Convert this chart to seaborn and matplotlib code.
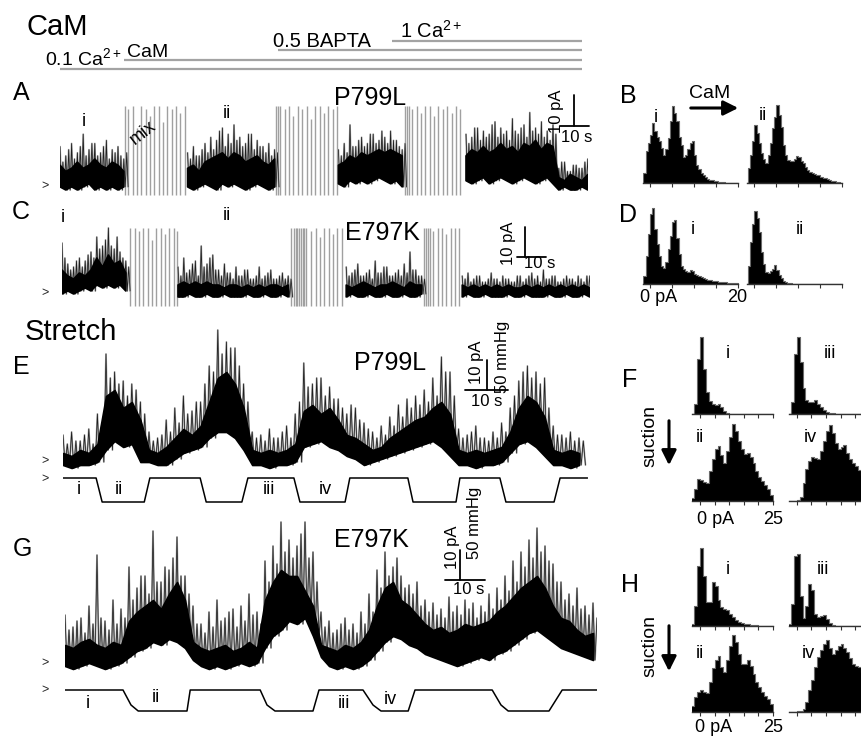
import numpy as np
import matplotlib
matplotlib.use("Agg")
import matplotlib.pyplot as plt
import seaborn as sns

sns.set_theme(style="white")
plt.rcParams["font.family"] = ["Liberation Sans", "DejaVu Sans"]
plt.rcParams["mathtext.fontset"] = "custom"
plt.rcParams["mathtext.rm"] = "Liberation Sans"
plt.rcParams["mathtext.it"] = "Liberation Sans:italic"
plt.rcParams["mathtext.bf"] = "Liberation Sans:bold"

N = np.nan
DT = 2.0  # s per envelope bin; spike maxima are given per half bin

# ---------------- Panel A (P799L, CaM): core band (LO..MID) and spike maxima, pA
A_LO = [1, 0, 1, 0, 1, 2, 0, 1, 0, 1, 0, 1] + [N] * 10 + \
       [1, 0, 1, 2, 1, 0, 2, 1, 2, 1, 0, 1, 2, 1, 0, 1] + [N] * 10 + \
       [2, 1, 3, 2, 3, 2, 3, 4, 3, 2, 3, 1] + [N] * 10 + \
       [3, 2, 3, 4, 2, 3, 4, 3, 2, 3, 4, 3, 2, 3, 4, 2] + [0, 1, 0, 0, 1, 0]
A_MID = [8, 6, 7, 9, 7, 8, 10, 8, 7, 9, 8, 6] + [N] * 10 + \
        [7, 8, 6, 9, 10, 11, 12, 10, 12, 11, 9, 10, 11, 9, 8, 10] + [N] * 10 + \
        [8, 9, 11, 10, 12, 11, 12, 13, 12, 13, 12, 11] + [N] * 10 + \
        [11, 13, 12, 14, 12, 13, 15, 13, 14, 12, 15, 14, 16, 13, 15, 14] + [4, 3, 5, 4, 3, 5]
A_SPK = [14, 9, 11, 13, 15, 10, 12, 14, 18, 11, 13, 15, 15, 11, 12, 14, 16, 10, 13, 12, 14, 11, 10, 12] + \
        [N] * 20 + \
        [12, 10, 14, 11, 11, 13, 15, 12, 17, 13, 16, 19, 20, 14, 18, 15, 21, 16, 17, 14, 15, 18, 18, 13,
         16, 14, 14, 12, 15, 11, 13, 12] + [N] * 20 + \
        [13, 11, 15, 12, 21, 14, 14, 16, 17, 14, 15, 18, 18, 15, 16, 19, 17, 15, 19, 16, 16, 14, 13, 15] + \
        [N] * 20 + \
        [18, 15, 17, 20, 20, 16, 19, 17, 18, 21, 22, 17, 20, 18, 19, 16, 23, 19, 18, 20, 21, 17, 25, 19,
         20, 18, 22, 17, 19, 16, 21, 18] + [7, 9, 9, 6, 6, 8, 8, 7, 7, 9, 10, 8]
A_ART_T = [22.5, 23.5, 25, 26.5, 28, 29.5, 31, 32.5, 34, 35.5, 37, 38.5, 40, 41.5, 43,
           74.5, 75.2, 76, 77.5, 79, 80.5, 82, 83.5, 85, 86.5, 88, 89.5, 91, 92.5, 94, 95.5,
           119, 119.6, 120.2, 121.5, 123, 124.5, 126, 127.5, 129, 130.5, 132, 133.5, 135, 136.5, 138]
A_ART_TOP = [27, 26, 27, 20, 27, 26, 24, 27, 27, 22, 27, 26, 27, 25, 27,
             27, 27, 27, 26, 27, 24, 27, 26, 27, 23, 27, 27, 25, 27, 26, 27,
             27, 27, 27, 26, 27, 25, 27, 27, 24, 27, 26, 27, 25, 27, 26]

# ---------------- Panel C (E797K, CaM)
C_LO = [0, 1, 0, 1, 2, 1, 3, 2, 3, 2, 3, 1] + [N] * 8 + \
       [-1, -1, 0, -1, -1, 0, -1, -1, 0, -1, -1, -1, 0, -1, -1, 0, -1, -1, 0, -1] + [N] * 9 + \
       [-1, 0, -1, -1, 0, -1, -1, 0, -1, -1, 0, -1, -1, 0] + [N] * 6 + \
       [-1, 0, -1, -1, 0, -1, -1, -1, 0, -1, -1, 0, -1, -1, -1, 0, -1, -1, 0, -1, -1, 0, -1]
C_MID = [8, 6, 5, 7, 6, 8, 12, 9, 13, 10, 11, 7] + [N] * 8 + \
        [3, 4, 3, 4, 3, 4, 3, 3, 2, 3, 3, 2, 3, 2, 3, 2, 3, 3, 2, 3] + [N] * 9 + \
        [3, 2, 3, 4, 3, 2, 3, 3, 4, 3, 2, 4, 3, 3] + [N] * 6 + \
        [3, 2, 3, 2, 3, 2, 3, 2, 3, 2, 2, 3, 2, 3, 2, 3, 2, 3, 2, 3, 2, 3, 2]
C_SPK = [17, 12, 10, 8, 9, 11, 12, 9, 11, 13, 14, 12, 19, 15, 16, 18, 22, 16, 15, 19, 14, 12, 11, 9] + \
        [N] * 16 + \
        [9, 6, 12, 7, 8, 10, 11, 6, 16, 9, 10, 12, 13, 8, 8, 6, 10, 7, 7, 5, 9, 6, 6, 8, 8, 5, 5, 6,
         9, 5, 6, 7, 8, 5, 5, 6, 7, 5, 6, 5] + [N] * 18 + \
        [9, 6, 7, 8, 10, 6, 6, 7, 8, 5, 11, 7, 7, 9, 9, 6, 6, 7, 8, 6, 10, 7, 14, 8, 8, 6, 6, 5] + \
        [N] * 12 + \
        [6, 5, 7, 4, 5, 6, 6, 4, 4, 5, 7, 5, 5, 4, 6, 5, 5, 4, 4, 6, 6, 4, 5, 6, 7, 5, 6, 4, 8, 5,
         5, 6, 6, 4, 4, 5, 6, 5, 5, 4, 6, 5, 4, 6, 6, 5]
C_ART_T = [23.5, 25, 26.5, 28, 29.5, 31, 32.5, 34, 35.5, 37, 38.5, 39.5,
           79, 80, 80.6, 81.2, 81.8, 82.4, 83, 83.6, 84.2, 86, 87.5, 89, 90.5, 92, 93.5, 95, 96.5,
           125, 125.6, 126.2, 126.8, 128, 129.5, 131, 132.5, 134, 135.5, 137]
C_ART_TOP = [22, 22, 21, 22, 22, 18, 22, 22, 20, 22, 22, 21,
             22, 22, 22, 22, 22, 22, 22, 22, 22, 21, 22, 19, 22, 22, 20, 22, 22,
             22, 22, 22, 22, 21, 22, 22, 20, 22, 22, 22]

# ---------------- Panel E (P799L, stretch)
E_LO = [-1, -2, -1, -1, 0, 4, 7, 5, 6, 0, 0, -1, -1, 1, 3, 4, 5, 8, 10, 10, 8, 4, -1, -1, -2,
        -1, -1, 0, 5, 6, 7, 5, 4, 2, 1, -1, 0, 1, 2, 3, 4, 5, 6, 7, 5, 2, -1, -1, -2, -1,
        -1, 0, 3, 6, 7, 5, 2, -1, -1, -2, -1]
E_MID = [3, 2, 4, 3, 6, 22, 24, 18, 20, 14, 4, 3, 5, 8, 11, 9, 12, 20, 28, 30, 26, 18, 4, 3, 4,
         3, 4, 6, 17, 19, 16, 18, 14, 9, 8, 6, 4, 5, 8, 10, 12, 14, 15, 18, 20, 16, 4, 3, 4, 3,
         4, 5, 10, 18, 22, 20, 15, 4, 3, 4, 3]
E_SPK = [9, 6, 10, 7, 7, 9, 11, 6, 16, 12,
         36, 28, 30, 26, 27, 22, 26, 24, 20, 16,
         10, 7, 8, 9, 14, 10, 18, 13, 22, 16,
         17, 20, 20, 26, 32, 30, 44, 36, 40, 38,
         38, 32, 26, 20, 10, 8, 9, 7, 11, 8,
         8, 10, 12, 8, 16, 20, 33, 25, 26, 28,
         28, 22, 25, 21, 21, 18, 16, 19, 18, 14,
         13, 11, 10, 8, 12, 9, 15, 12, 19, 15,
         21, 18, 22, 19, 24, 20, 28, 22, 35, 30,
         30, 22, 11, 8, 9, 10, 12, 8, 8, 7,
         10, 8, 13, 10, 18, 22, 27, 30, 32, 28,
         30, 26, 28, 18, 12, 9, 9, 8, 10, 7,
         8, 7]
E_P_T = [0, 7.7, 9.1, 18.9, 20.2, 31.9, 33.3, 41.6, 43.0, 53.7, 55.1, 65.6, 66.7, 80.2, 81.4,
         91.4, 92.3, 101.6, 103.0, 114.2, 115.6, 122]
E_P_MMHG = [0, 0, -40, -40, 0, 0, -40, -40, 0, 0, -40, -40, 0, 0, -40, -40, 0, 0, -40, -40, 0, 0]

# ---------------- Panel G (E797K, stretch)
G_LO = [0, -1, 0, 1, 0, -1, 0, 1, 3, 5, 6, 8, 7, 9, 8, 6, 2, 0, -1, 0, -1, 0, 1, 0, 1,
        6, 10, 12, 15, 14, 16, 10, 3, 0, -1, 0, -1, 0, 2, 5, 8, 10, 9, 7, 6, 4, 3,
        2, 1, 0, 1, 2, 3, 2, 4, 5, 7, 9, 11, 12, 10, 8, 6, 5, 4, 3, 2]
G_MID = [7, 6, 8, 9, 7, 6, 8, 7, 15, 18, 20, 22, 19, 24, 28, 22, 8, 6, 5, 6, 7, 5, 6, 8, 6,
         22, 28, 32, 30, 30, 25, 20, 7, 6, 5, 7, 6, 8, 12, 20, 26, 28, 22, 20, 17, 14, 12,
         13, 11, 12, 14, 13, 14, 15, 18, 20, 23, 26, 28, 30, 26, 20, 16, 15, 12, 10, 11]
G_SPK = [17, 12, 13, 15, 16, 11, 20, 14, 37, 16, 15, 12, 22, 14, 19, 16,
         33, 22, 26, 30, 30, 24, 45, 28, 28, 33, 32, 36, 43, 30, 30, 24,
         20, 14, 14, 11, 18, 13, 22, 15, 16, 18, 19, 13, 20, 15, 24, 17, 18, 14,
         35, 28, 40, 34, 48, 38, 42, 36, 40, 44, 48, 36, 38, 28,
         18, 13, 15, 11, 12, 14, 16, 12, 14, 11, 18, 14,
         24, 18, 32, 26, 38, 30, 33, 36, 30, 26, 27, 24, 28, 20, 22, 18, 21, 17,
         19, 16, 23, 18, 20, 17, 22, 19, 21, 16, 20, 18, 24, 19,
         26, 22, 30, 25, 35, 28, 38, 33, 42, 36, 46, 38, 40, 35, 34, 28,
         28, 22, 24, 20, 26, 19, 20, 17, 21, 16]
G_P_T = [0, 14.5, 16.5, 18.3, 30.5, 31.3, 48.8, 50.5, 52.5, 62, 63.5, 74.5, 77, 79, 85.8, 87.5,
         106.8, 109, 110.8, 121, 124.3, 133]
G_P_MMHG = [0, 0, -25, -35, -35, 0, 0, -25, -35, -35, 0, 0, -25, -35, -35, 0, 0, -25, -35, -35, 0, 0]

# ---------------- Amplitude histograms (relative counts)
BD_BIN = 0.5    # pA, bins start at -2 pA
FH_BIN = 1.0    # pA, bins start at -3 pA
B_I = [0, 10, 32, 40, 48, 60, 52, 46, 42, 35, 28, 34, 45, 62, 77, 70, 62, 46, 38, 26, 28, 34, 40, 42,
       28, 18, 14, 10, 8, 6, 4, 3, 3, 2, 2, 1, 1, 1, 0.5, 0, 0, 0, 0, 0]
B_II = [0, 15, 28, 42, 58, 50, 40, 30, 24, 20, 28, 40, 55, 66, 78, 68, 56, 38, 28, 23, 22, 22, 24, 27,
        26, 22, 20, 16, 13, 11, 10, 9, 8, 8, 6, 5, 5, 4, 3, 2, 2, 1, 1, 0.5]
D_I = [0, 8, 28, 50, 70, 76, 55, 40, 28, 18, 16, 22, 35, 48, 62, 64, 46, 30, 18, 15, 13, 12, 14, 13,
       10, 9, 8, 7, 6, 5, 4, 4, 3, 3, 3, 2, 2, 2, 2, 1, 1, 1, 1, 1]
D_II = [0, 18, 42, 60, 73, 66, 52, 32, 20, 12, 11, 13, 15, 19, 14, 9, 6, 3, 2, 1, 1, 0.5, 0, 0,
        0, 0, 0, 0, 0, 0, 0, 0, 0, 0, 0, 0, 0, 0, 0, 0, 0, 0, 0, 0]
F_I = [0, 10, 55, 77, 45, 22, 13, 10, 9, 10, 7, 3, 1, 0.5, 0, 0, 0, 0, 0, 0, 0, 0, 0, 0, 0, 0, 0, 0]
F_III = [0, 12, 60, 77, 52, 26, 14, 12, 12, 14, 10, 7, 4, 2, 1, 1, 0.5, 0, 0, 0, 0, 0, 0, 0, 0, 0, 0, 0]
F_II = [3, 12, 22, 21, 19, 18, 30, 42, 52, 55, 46, 38, 50, 64, 77, 70, 60, 52, 47, 48, 44, 38, 30, 24,
        20, 16, 12, 6]
F_IV = [0, 0, 0, 1, 4, 18, 32, 40, 44, 43, 42, 50, 60, 70, 76, 68, 58, 52, 54, 56, 48, 42, 38, 35,
        31, 26, 20, 14]
H_I = [2, 20, 60, 78, 50, 24, 24, 44, 40, 26, 19, 17, 16, 12, 9, 6, 4, 3, 2, 2, 1, 1, 0.5, 0, 0, 0, 0, 0]
H_III = [2, 22, 70, 72, 30, 8, 20, 42, 36, 12, 9, 10, 11, 7, 3, 1, 0, 0, 0, 0, 0, 0, 0, 0, 0, 0, 0, 0]
H_II = [6, 15, 20, 22, 20, 19, 30, 44, 52, 56, 45, 40, 52, 66, 77, 70, 58, 48, 48, 52, 46, 38, 30, 25,
        20, 16, 13, 8]
H_IV = [0, 0, 0, 0.5, 1, 3, 10, 22, 32, 45, 55, 62, 68, 72, 64, 58, 62, 66, 68, 64, 60, 54, 48, 46,
        45, 40, 34, 28]

# Solution bars (start, in s of panel A time axis)
SOL_START = [0, 22, 75, 114.5]
SOL_END = 180

# ======================================================================
W, H = 861, 736
fig = plt.figure(figsize=(W / 100, H / 100), dpi=100)


def px_axes(x0, y0, x1, y1):
    ax = fig.add_axes([x0 / W, 1 - y1 / H, (x1 - x0) / W, (y1 - y0) / H])
    ax.patch.set_alpha(0)
    return ax


def trace_axes(x0, px_s, dur, base, px_u, ylo, yhi):
    ax = px_axes(x0, base - yhi * px_u, x0 + dur * px_s, base - ylo * px_u)
    ax.set_xlim(0, dur)
    ax.set_ylim(ylo, yhi)
    ax.axis("off")
    return ax


def draw_trace(ax, lo, mid, spk):
    lo, mid, spk = (np.asarray(v, dtype=float) for v in (lo, mid, spk))
    t = np.arange(len(lo)) * DT
    ok = ~np.isnan(lo)
    # min/max display: each half bin goes from its spike maximum down to the core bottom
    ts = np.arange(len(spk)) * (DT / 2)
    lo_half = np.repeat(lo, 2)
    zt = np.empty(2 * len(spk))
    zy = np.empty(2 * len(spk))
    zt[0::2], zy[0::2] = ts, spk
    zt[1::2], zy[1::2] = ts + DT / 4, lo_half
    ax.plot(zt, zy, color="#a8a8a8", lw=1.3, zorder=2)
    ax.plot(zt, zy, color="#1e1e1e", lw=0.55, zorder=2.5)
    ax.fill_between(t, lo, mid, where=ok, color="black", lw=1.2, edgecolor="black", zorder=3)


def scalebar(ax, tv, y0, y1, tx0, tx1):
    ax.plot([tv, tv], [y0, y1], color="black", lw=1.3, clip_on=False)
    ax.plot([tx0, tx1], [y0, y0], color="black", lw=1.3, clip_on=False)


def draw_pressure(ax, t, p):
    sns.lineplot(x=t, y=p, ax=ax, color="black", lw=1.1, estimator=None, sort=False)
    ax.set_xlabel("")
    ax.set_ylabel("")
    ax.axis("off")


# --- solution exchange bars
ax_sol = px_axes(60, 34.5, 60 + 182 * 2.9, 74.6)
ax_sol.set_xlim(0, 182)
ax_sol.set_ylim(-0.6, 3.7)
ax_sol.axis("off")
for row, s in enumerate(SOL_START):
    ax_sol.hlines(row, s, SOL_END, color="#a3a3a3", lw=1.6)

# --- A
axA = trace_axes(60, 2.9, 182, 190, 3.1, -3, 32)
axA.vlines(A_ART_T, -1.5, A_ART_TOP, color="#a0a0a0", lw=1.0)
draw_trace(axA, A_LO, A_MID, A_SPK)
scalebar(axA, 177.2, 20.6, 30.6, 172.4, 182.4)

# --- C
axC = trace_axes(62, 2.9, 182, 294, 3.0, -5, 25)
axC.vlines(C_ART_T, -4, C_ART_TOP, color="#a0a0a0", lw=1.0)
draw_trace(axC, C_LO, C_MID, C_SPK)
scalebar(axC, 159.7, 12.3, 22.3, 156.9, 166.9)

# --- E
axE = trace_axes(63, 4.3, 122, 462, 3.0, -4, 46)
draw_trace(axE, E_LO, E_MID, E_SPK)
scalebar(axE, 98.6, 24, 34, 93.5, 103.5)
axEp = trace_axes(63, 4.3, 122, 478, 0.6, -45, 5)
draw_pressure(axEp, E_P_T, E_P_MMHG)

# --- G
axG = trace_axes(65, 4.0, 133, 666, 3.0, -4, 50)
draw_trace(axG, G_LO, G_MID, G_SPK)
scalebar(axG, 98.75, 28.7, 38.7, 95, 105)
axGp = trace_axes(65, 4.0, 133, 690, 0.6, -40, 5)
draw_pressure(axGp, G_P_T, G_P_MMHG)


# --- histograms
def hist_axes(x_zero, y_axis, px_pA, xlo, xhi, counts, bw, b0, ticks):
    ax = px_axes(x_zero + xlo * px_pA, y_axis - 82, x_zero + xhi * px_pA, y_axis)
    n = len(counts)
    centers = b0 + bw * (np.arange(n) + 0.5)
    sns.histplot(x=centers, weights=np.asarray(counts, dtype=float), binwidth=bw,
                 binrange=(b0, b0 + bw * n), element="step", fill=True,
                 color="black", alpha=1, linewidth=0.8, edgecolor="#6a6a6a", ax=ax)
    ax.set_xlim(xlo, xhi)
    ax.set_ylim(0, 82)
    ax.set_xlabel("")
    ax.set_ylabel("")
    for s in ("top", "right", "left"):
        ax.spines[s].set_visible(False)
    ax.spines["bottom"].set_color("#333333")
    ax.spines["bottom"].set_linewidth(1.0)
    ax.set_yticks([])
    ax.set_xticks(ticks)
    ax.tick_params(axis="x", bottom=True, direction="out", length=3, width=0.8,
                   color="#333333", labelbottom=False, pad=0)
    return ax


t20 = [0, 5, 10, 15, 20]
t25 = [0, 5, 10, 15, 20, 25]
hist_axes(650, 183, 4.4, -1.7, 20, B_I, BD_BIN, -2, t20)
hist_axes(754.3, 183, 4.4, -1.7, 20, B_II, BD_BIN, -2, t20)
hist_axes(650, 284, 4.4, -1.7, 20, D_I, BD_BIN, -2, t20)
hist_axes(754.3, 284, 4.4, -1.7, 20, D_II, BD_BIN, -2, t20)
hist_axes(700, 414, 2.92, -2.8, 25, F_I, FH_BIN, -3, t25)
hist_axes(796.7, 414, 2.92, -2.8, 25, F_III, FH_BIN, -3, t25)
hist_axes(700, 501, 2.92, -2.8, 25, F_II, FH_BIN, -3, t25)
hist_axes(796.7, 501, 2.92, -2.8, 25, F_IV, FH_BIN, -3, t25)
hist_axes(700, 626, 2.92, -2.8, 25, H_I, FH_BIN, -3, t25)
hist_axes(796.7, 626, 2.92, -2.8, 25, H_III, FH_BIN, -3, t25)
hist_axes(700, 712, 2.92, -2.8, 25, H_II, FH_BIN, -3, t25)
hist_axes(796.7, 712, 2.92, -2.8, 25, H_IV, FH_BIN, -3, t25)

# --- text overlay in pixel coordinates
ov = fig.add_axes([0, 0, 1, 1])
ov.set_xlim(0, W)
ov.set_ylim(H, 0)
ov.axis("off")
ov.patch.set_alpha(0)


def T(x, y, s, size, ha="center", va="center", rot=0, color="black"):
    ov.text(x, y, s, fontsize=size, ha=ha, va=va, rotation=rot, color=color)


T(27, 27, "CaM", 21, ha="left")
T(45, 65, r"0.1 Ca$^{2+}$", 14, ha="left", va="baseline")
T(127, 57, "CaM", 14, ha="left", va="baseline")
T(273, 47, "0.5 BAPTA", 14.5, ha="left", va="baseline")
T(400, 38, r"1 Ca$^{2+}$", 14.5, ha="left", va="baseline")

for lab, x, y in [("A", 21, 93), ("C", 21, 212), ("E", 21, 367), ("G", 22, 549),
                  ("B", 628, 96), ("D", 628, 215), ("F", 630, 380), ("H", 630, 585)]:
    T(x, y, lab, 18)
T(25, 332, "Stretch", 21, ha="left")
for lab, x, y in [("P799L", 370, 98), ("E797K", 382, 233), ("P799L", 390, 363), ("E797K", 371, 540)]:
    T(x, y, lab, 18)

for lab, x, y in [("i", 84, 121), ("ii", 227, 114), ("i", 63, 218), ("ii", 227, 216),
                  ("i", 79, 490), ("ii", 119, 490), ("iii", 269, 490), ("iv", 325, 490),
                  ("i", 88, 703), ("ii", 156, 698), ("iii", 344, 703), ("iv", 390, 700),
                  ("i", 656, 117), ("ii", 763, 116), ("i", 693, 230), ("ii", 800, 230),
                  ("i", 728, 353), ("iii", 830, 353), ("ii", 700, 438), ("iv", 810, 438),
                  ("i", 728, 569), ("iii", 823, 569), ("ii", 700, 654), ("iv", 808, 654)]:
    T(x, y, lab, 13)
T(143, 133, "mix", 13, rot=38)

for x, y in [(45, 186), (45, 293), (45, 461), (45, 479), (45, 663), (45, 690)]:
    T(x, y, ">", 9, color="#222222")

# scale bar labels
T(556, 111, "10 pA", 12, rot=90)
T(577, 138, "10 s", 12)
T(509, 243, "10 pA", 12, rot=90)
T(540, 263, "10 s", 12)
T(476, 362, "10 pA", 12, rot=90)
T(503, 357, "50 mmHg", 12, rot=90)
T(487, 401, "10 s", 12)
T(452, 547, "10 pA", 12, rot=90)
T(475, 523, "50 mmHg", 12, rot=90)
T(469, 589, "10 s", 12)

# histogram annotations
T(710, 94, "CaM", 14)
ov.annotate("", xy=(741, 108), xytext=(688, 108),
            arrowprops=dict(arrowstyle="-|>", lw=2.2, color="black", mutation_scale=22))
T(640, 297, "0 pA", 13, ha="left")
T(737, 297, "20", 13)
T(697, 520, "0 pA", 13, ha="left")
T(773, 520, "25", 13)
T(695, 728, "0 pA", 13, ha="left")
T(773, 728, "25", 13)
for yc, y0, y1 in [(436, 418, 468), (646, 623, 674)]:
    T(650, yc, "suction", 14, rot=90)
    ov.annotate("", xy=(669, y1), xytext=(669, y0),
                arrowprops=dict(arrowstyle="-|>", lw=2.2, color="black", mutation_scale=22))

fig.savefig("out.png", dpi=100)
